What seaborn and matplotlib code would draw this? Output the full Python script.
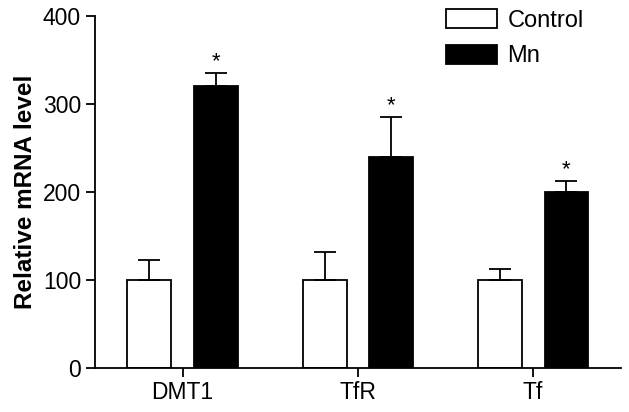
import pandas as pd
import seaborn as sns
import matplotlib.pyplot as plt

# ------- data -------
genes = ["DMT1", "TfR", "Tf"]
groups = ["Control", "Mn"]
control_mean = [100, 100, 100]
control_err = [22, 32, 12]
mn_mean = [320, 240, 200]
mn_err = [15, 45, 12]

df = pd.DataFrame({
    "gene": genes * 2,
    "group": [groups[0]] * 3 + [groups[1]] * 3,
    "value": control_mean + mn_mean,
    "err": control_err + mn_err,
})

sns.set_style("ticks")
plt.rcParams['font.family'] = ['Liberation Sans', 'DejaVu Sans']
plt.rcParams.update({
    'axes.linewidth': 1.3,
    'text.color': 'black',
    'axes.labelcolor': 'black',
    'xtick.color': 'black',
    'ytick.color': 'black',
    'axes.edgecolor': 'black',
})

fig, ax = plt.subplots(figsize=(6.29, 4.12), dpi=100)
fig.subplots_adjust(left=0.151, right=0.987, bottom=0.108, top=0.961)

sns.barplot(data=df, x="gene", y="value", hue="group", order=genes, hue_order=groups,
            palette={"Control": "white", "Mn": "black"}, edgecolor="black", linewidth=1.3,
            width=0.76, gap=0.342, errorbar=None, ax=ax)

# one-sided error bars and significance stars
for bars, grp in zip(ax.containers, groups):
    sub = df[df.group == grp].set_index("gene").loc[genes]
    xs = [b.get_x() + b.get_width() / 2 for b in bars]
    ax.errorbar(xs, sub["value"], yerr=[[0] * 3, sub["err"]], fmt="none",
                ecolor="black", elinewidth=1.3, capsize=8, capthick=1.3, zorder=1)
    if grp == "Mn":
        for x, v, e in zip(xs, sub["value"], sub["err"]):
            ax.annotate("*", (x, v + e), xytext=(0, 1), textcoords="offset points",
                        ha="center", va="bottom", fontsize=16)

ax.set_ylim(0, 400)
ax.set_xlim(-0.5, 2.5)
ax.set_yticks([0, 100, 200, 300, 400])
ax.set_xlabel("")
ax.set_ylabel("Relative mRNA level", fontsize=17.5, fontweight="bold", labelpad=4)
ax.tick_params(labelsize=16.5, width=1.3, length=6.5)
sns.despine(ax=ax)

ax.legend(title=None, frameon=False, fontsize=17, loc="upper right",
          bbox_to_anchor=(0.97, 1.08), handlelength=2.15, handleheight=0.85,
          labelspacing=0.55, handletextpad=0.45)

plt.savefig("out.png", dpi=100)
